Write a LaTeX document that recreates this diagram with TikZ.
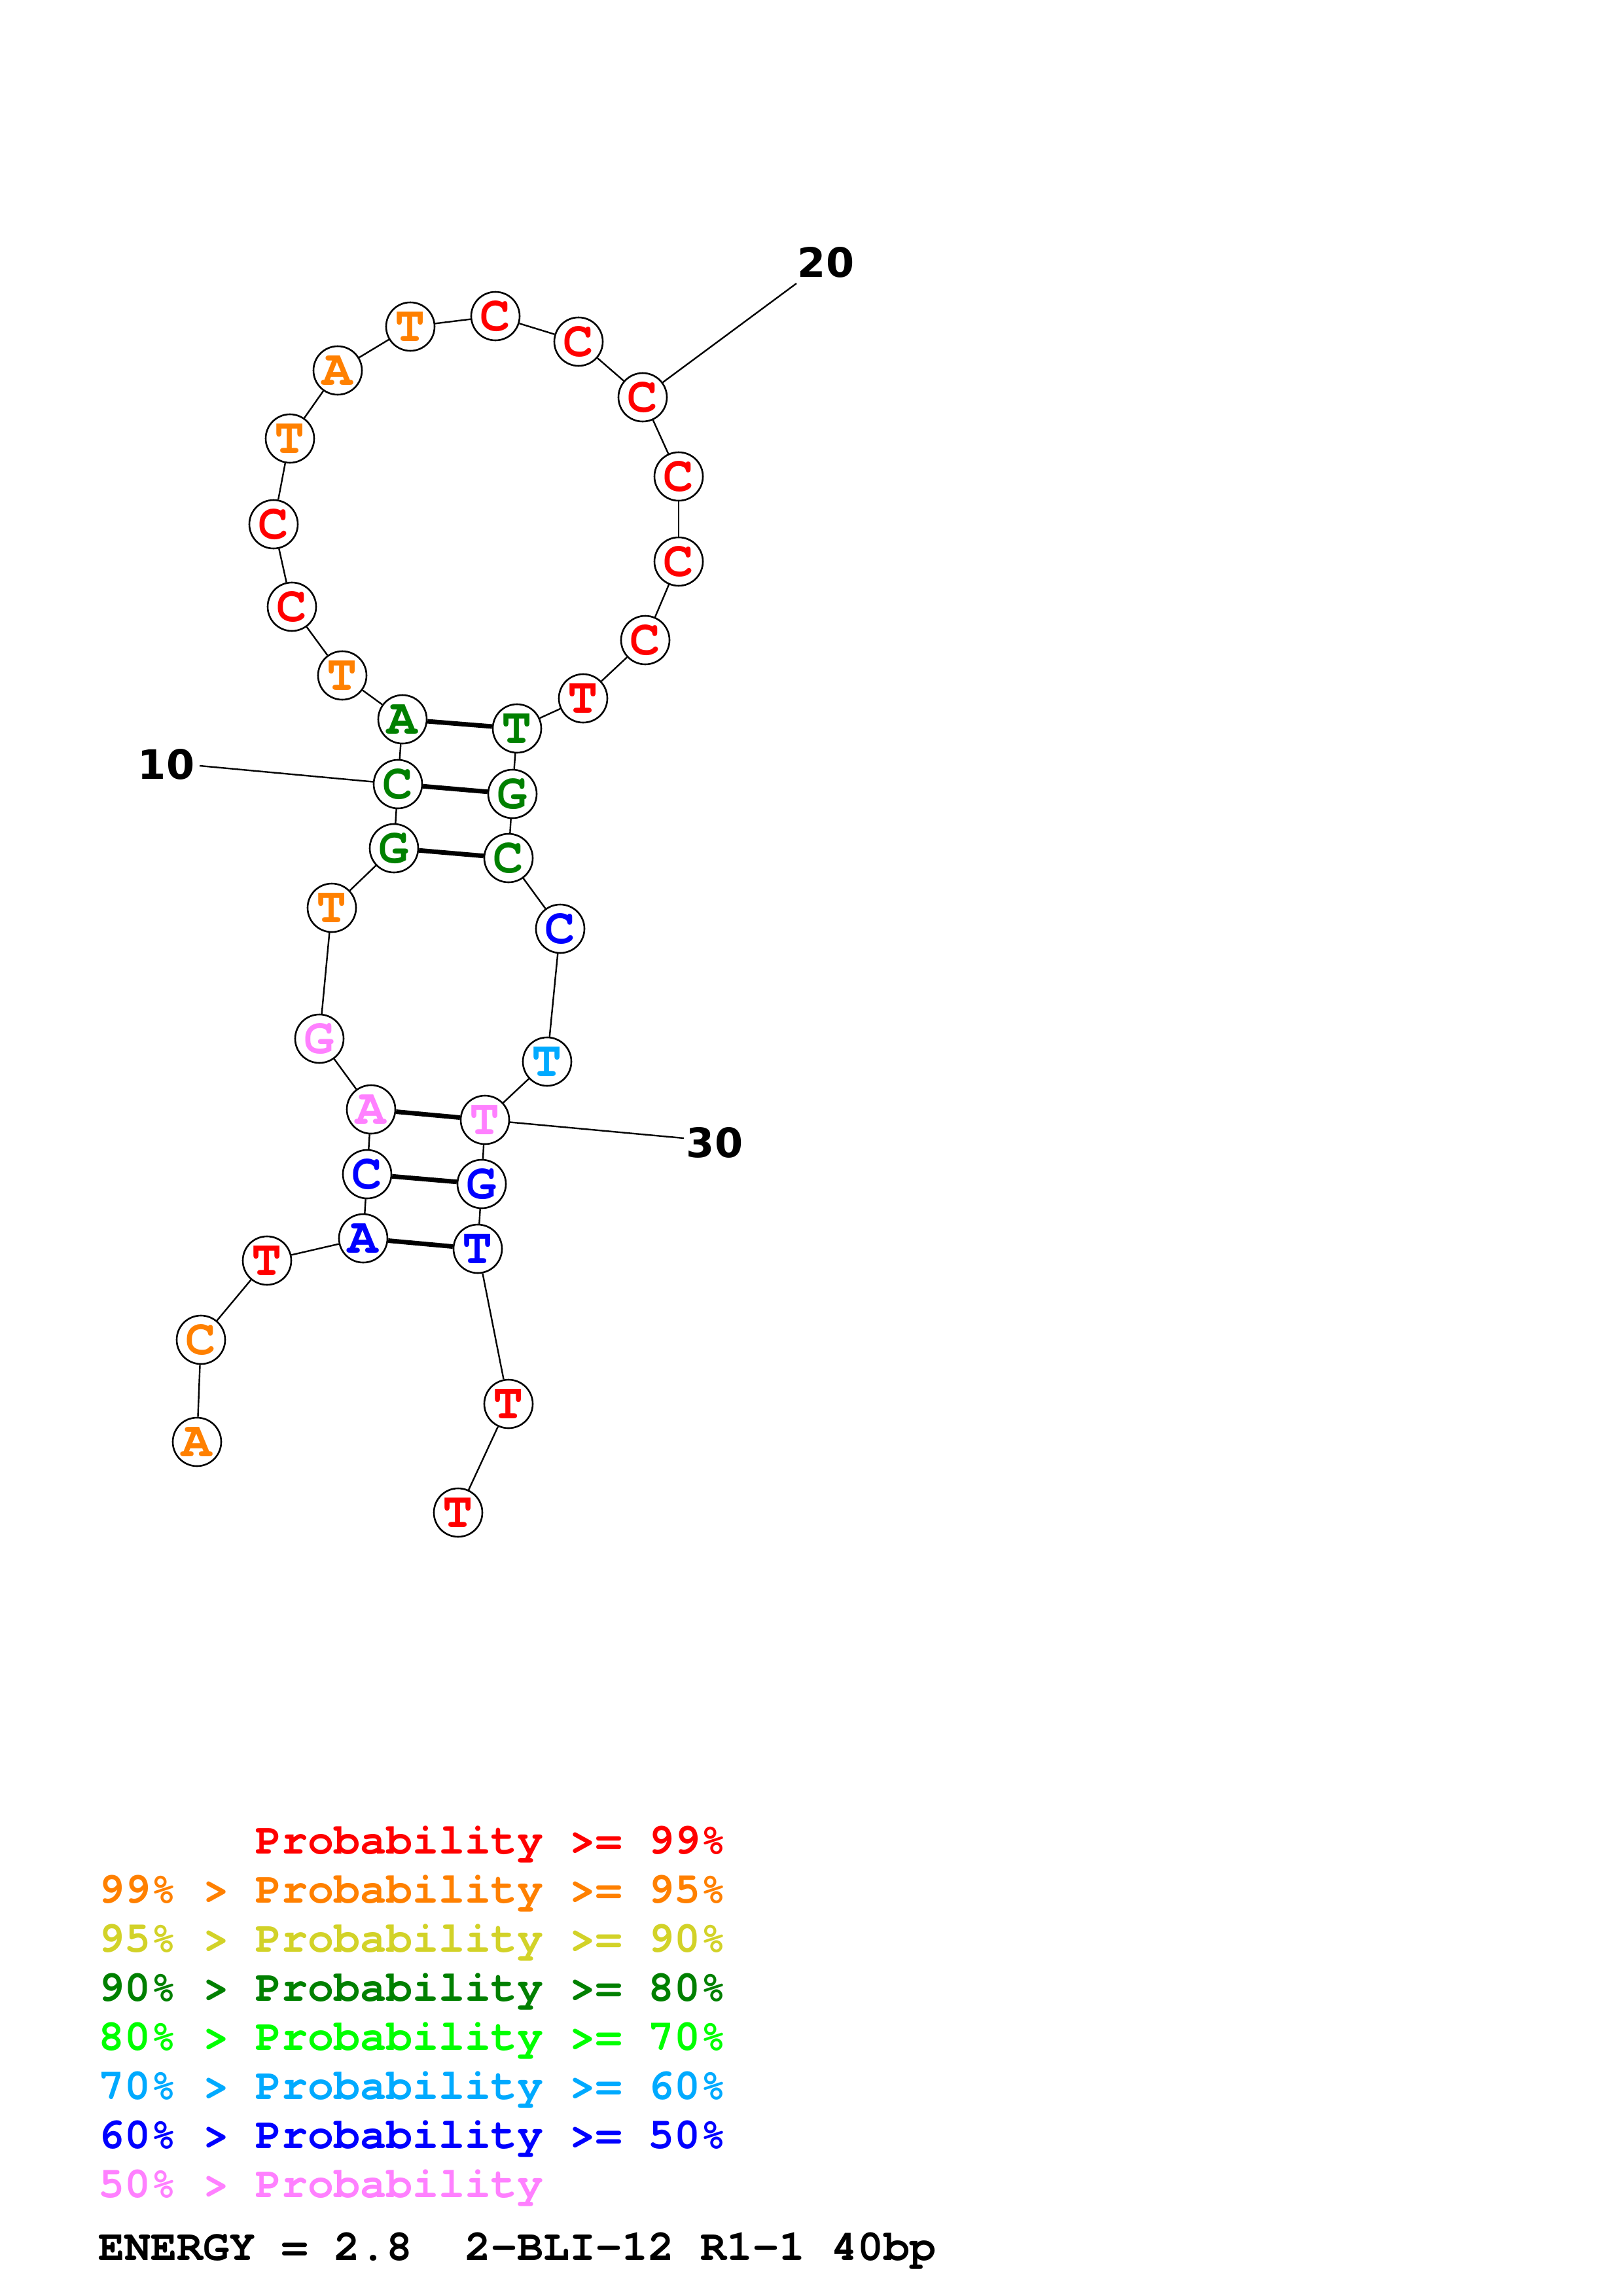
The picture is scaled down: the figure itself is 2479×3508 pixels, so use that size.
\documentclass[tikz,border=0pt]{standalone}
\usepackage{fontspec}
\newfontfamily\monof{texgyrecursor-bold.otf}
\newfontfamily\labf{DejaVu Sans}
\definecolor{cR}{RGB}{255,0,0}
\definecolor{cO}{RGB}{255,128,0}
\definecolor{cY}{RGB}{210,210,40}
\definecolor{cG}{RGB}{0,128,0}
\definecolor{cL}{RGB}{0,255,0}
\definecolor{cC}{RGB}{0,170,255}
\definecolor{cB}{RGB}{0,0,255}
\definecolor{cP}{RGB}{255,128,255}
\begin{document}
\begin{tikzpicture}[x=1pt,y=-1pt,
  nt/.style={circle,draw=black,line width=2.6pt,fill=white,minimum size=74pt,inner sep=0pt,
    font=\monof\fontsize{77}{77}\selectfont},
  bb/.style={line width=2.4pt,black},
  bp/.style={line width=7pt,black},
  numlab/.style={font=\labf\bfseries\fontsize{62}{62}\selectfont,inner sep=0pt},
  leg/.style={anchor=base west,inner sep=0pt,font=\monof\fontsize{66.7}{66.7}\selectfont}]
\useasboundingbox (0,0) rectangle (2479,3508);
\fill[white] (0,0) rectangle (2479,3508);

% nucleotides
\foreach \i/\b/\c/\x/\y in {
 1/A/cO/301/2203, 2/C/cO/307/2047, 3/T/cR/408/1926, 4/A/cB/555/1892,
 5/C/cB/561/1794, 6/A/cP/567/1695, 7/G/cP/488/1587, 8/T/cO/507/1387,
 9/G/cG/602/1296, 10/C/cG/608/1198, 11/A/cG/615/1099, 12/T/cO/523/1032,
 13/C/cR/446/927, 14/C/cR/418/801, 15/T/cO/443/670, 16/A/cO/516/566,
 17/T/cO/627/499, 18/C/cR/757/483, 19/C/cR/884/522, 20/C/cR/982/607,
 21/C/cR/1037/728, 22/C/cR/1037/858, 23/C/cR/986/978, 24/T/cR/891/1067,
 25/T/cG/790/1113, 26/G/cG/783/1213, 27/C/cG/777/1311, 28/C/cB/856/1419,
 29/T/cC/836/1622, 30/T/cP/741/1711, 31/G/cB/736/1809, 32/T/cB/730/1908,
 33/T/cR/777/2145, 34/T/cR/700/2311}
  \node[nt,text=\c] (n\i) at (\x,\y) {\b};

% backbone
\foreach \i [evaluate=\i as \j using int(\i+1)] in {1,...,33}
  \draw[bb] (n\i) -- (n\j);

% base pairs
\foreach \a/\b in {4/32,5/31,6/30,9/27,10/26,11/25}
  \draw[bp] (n\a) -- (n\b);

% position labels
\node[numlab] (l10) at (254,1168) {10};
\node[numlab] (l20) at (1262,401) {20};
\node[numlab] (l30) at (1092,1746) {30};
\coordinate (e10) at (305,1170);
\coordinate (e20) at (1217,433);
\coordinate (e30) at (1045,1739);
\draw[bb] (n10) -- (e10);
\draw[bb] (n20) -- (e20);
\draw[bb] (n30) -- (e30);

% legend
\node[leg,text=cR] (g1) at (150,2832) {\hphantom{99\% > }Probability >= 99\%};
\node[leg,text=cO] (g2) at (150,2907) {99\% > Probability >= 95\%};
\node[leg,text=cY] (g3) at (150,2982) {95\% > Probability >= 90\%};
\node[leg,text=cG] (g4) at (150,3057) {90\% > Probability >= 80\%};
\node[leg,text=cL] (g5) at (150,3132) {80\% > Probability >= 70\%};
\node[leg,text=cC] (g6) at (150,3207) {70\% > Probability >= 60\%};
\node[leg,text=cB] (g7) at (150,3282) {60\% > Probability >= 50\%};
\node[leg,text=cP] (g8) at (150,3357) {50\% > Probability};
\node[leg,text=black] (g9) at (150,3453) {ENERGY = 2.8\ \ 2-BLI-12 R1-1 40bp};
\end{tikzpicture}
\end{document}
